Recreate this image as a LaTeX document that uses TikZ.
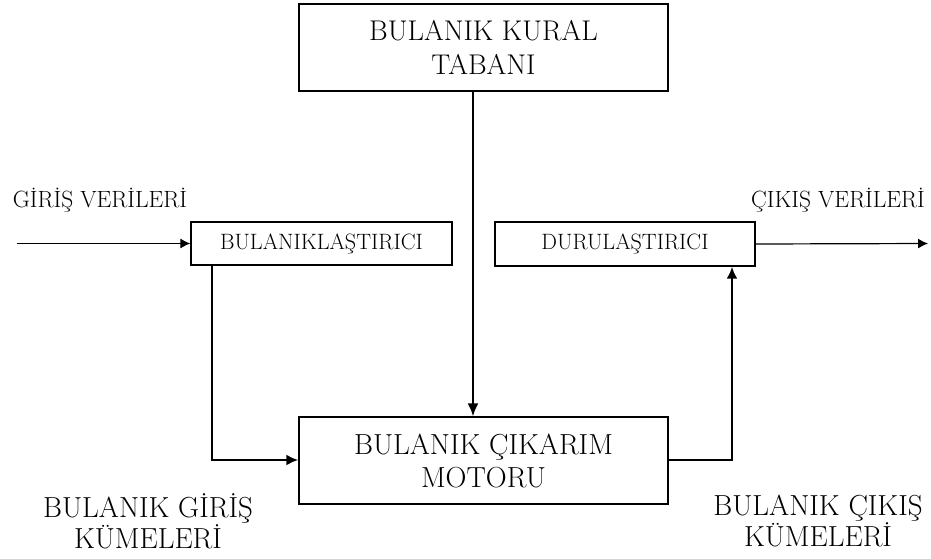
\documentclass[tikz,border=0pt]{standalone}
\usepackage{fontspec}
\usepackage{tikz}
\usetikzlibrary{arrows.meta,positioning}

\begin{document}
\begin{tikzpicture}[x=1pt,y=-1pt]
                \tikzstyle{block} = [shape=rectangle, draw=black, line width=1.3pt, fill=white, inner sep=0pt, align=center];
                \tikzstyle{bigtext} = [font=\fontsize{29}{34}\selectfont];
                \tikzstyle{smalltext} = [font=\fontsize{22.2}{26}\selectfont];
                \tikzstyle{label} = [inner sep=0pt, align=center];

                \useasboundingbox (0,0) rectangle (931,558);

                \node[block, font=\fontsize{28.5}{34}\selectfont, minimum width=369pt, minimum height=87pt](kural) at (483.5,47.5) {BULANIK KURAL\\TABANI};
                \node[block, smalltext, minimum width=261pt, minimum height=43pt](bulanik) at (321.5,243.5) {BULANIKLAŞTIRICI};
                \node[block, smalltext, minimum width=260pt, minimum height=44pt](durul) at (625,244) {DURULAŞTIRICI};
                \node[block, bigtext, font=\fontsize{29}{33}\selectfont, minimum width=369pt, minimum height=87pt](cikarim) at (483.5,460.5) {BULANIK ÇIKARIM\\MOTORU};

                \node[label, font=\fontsize{23.5}{26}\selectfont](giris) at (100,200) {GİRİŞ VERİLERİ};
                \node[label, font=\fontsize{23.5}{26}\selectfont](cikis) at (838,200) {ÇIKIŞ VERİLERİ};
                \node[label, font=\fontsize{29}{26}\selectfont](bgiris) at (148,521) {BULANIK GİRİŞ\\KÜMELERİ};
                \node[label, font=\fontsize{29}{26}\selectfont](bcikis) at (818,521) {BULANIK ÇIKIŞ\\KÜMELERİ};

                \coordinate (in) at (17,243.5);
                \coordinate (out) at (928,243.5);
                \coordinate (lcorner) at (212,460);
                \coordinate (rcorner) at (732,460);

                \draw[-{Latex[length=10pt,width=10pt]}, line width=1.2pt]
                    (in) -- (bulanik.west);
                \draw[-{Latex[length=10pt,width=10pt]}, line width=1.2pt]
                    (durul.east) -- (out);
                \draw[-{Latex[length=13pt,width=11pt]}, line width=2.2pt]
                    (kural.south -| 473,0) -- (cikarim.north -| 473,0);
                \draw[-{Latex[length=12pt,width=11pt]}, line width=2.6pt]
                    (bulanik.south -| lcorner) -- (lcorner) -- (cikarim.west |- lcorner);
                \draw[-{Latex[length=12pt,width=11pt]}, line width=2.6pt]
                    (cikarim.east |- rcorner) -- (rcorner) -- (durul.south -| rcorner);
            \end{tikzpicture}
\end{document}
